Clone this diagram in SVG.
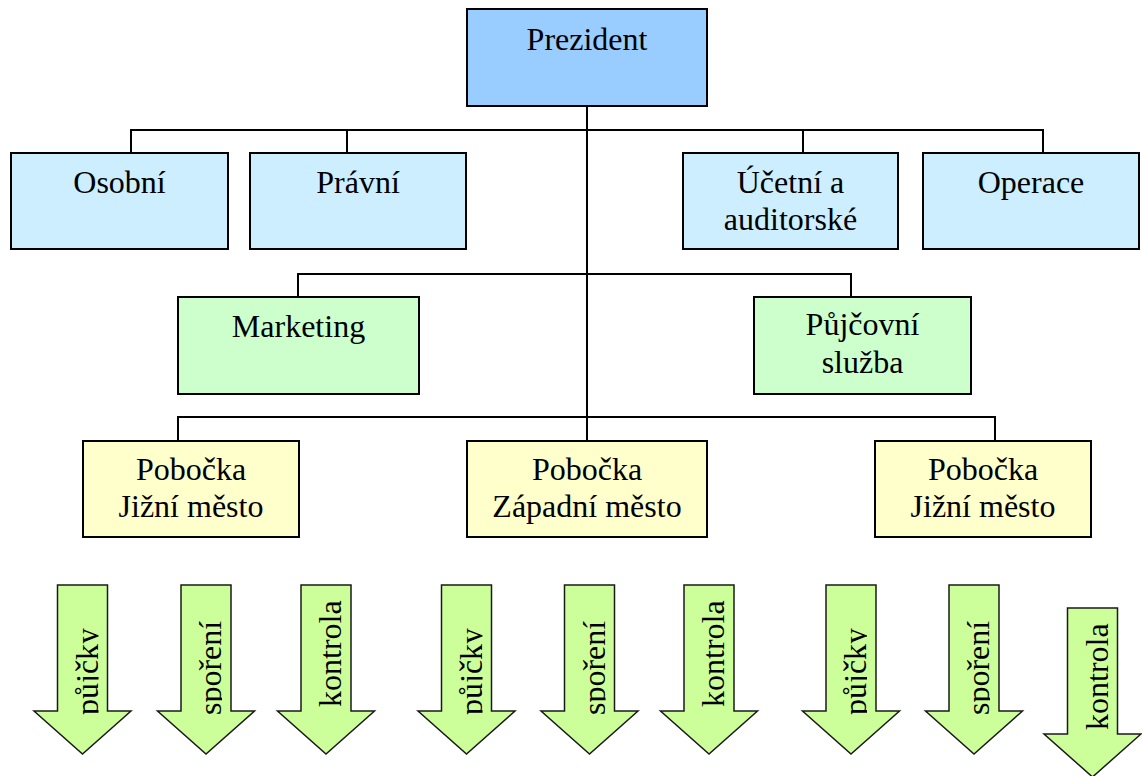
<svg xmlns="http://www.w3.org/2000/svg" width="1142" height="776" viewBox="0 0 1142 776" font-family="Liberation Serif, Times New Roman, Times, DejaVu Serif, serif" font-size="32">
  <style>
    .box { stroke: #000; stroke-width: 2; }
    .pres { fill: #99ccff; }
    .dept { fill: #cceeff; }
    .div { fill: #ccffcc; }
    .branch { fill: #ffffcc; }
    .lbl { text-anchor: middle; }
    .conn { fill: none; stroke: #000; stroke-width: 2; }
    .arrow { fill: #ccff99; stroke: #1a1a1a; stroke-width: 1.5; stroke-linejoin: miter; }
  </style>
  <defs>
    <path id="arrowShape" d="M-25,0 H25 V126 H48.5 L0,169 L-48.5,126 H-25 Z"/>
    <clipPath id="arrowText">
      <rect x="-25" y="0" width="41" height="169"/>
    </clipPath>
  </defs>

  <!-- connectors -->
  <g id="connectors">
    <path class="conn" d="M587,106 V441"/>
    <path class="conn" d="M131,153 V130 H1043 V153 M347,130 V153 M803,130 V153"/>
    <path class="conn" d="M298,297 V274 H851 V297"/>
    <path class="conn" d="M178,441 V417 H995 V441"/>
  </g>

  <!-- top level -->
  <g id="prezident">
    <rect class="box pres" x="467" y="9" width="240" height="97"/>
    <text class="lbl" x="587" y="50">Prezident</text>
  </g>

  <!-- departments -->
  <g id="osobni">
    <rect class="box dept" x="11" y="153" width="217" height="96"/>
    <text class="lbl" x="119.5" y="193">Osobní</text>
  </g>
  <g id="pravni">
    <rect class="box dept" x="250" y="153" width="216" height="96"/>
    <text class="lbl" x="358" y="193">Právní</text>
  </g>
  <g id="ucetni">
    <rect class="box dept" x="683" y="153" width="215" height="96"/>
    <text class="lbl" x="790.5" y="193">Účetní a</text>
    <text class="lbl" x="790.5" y="230">auditorské</text>
  </g>
  <g id="operace">
    <rect class="box dept" x="923" y="153" width="216" height="96"/>
    <text class="lbl" x="1031" y="193">Operace</text>
  </g>

  <!-- divisions -->
  <g id="marketing">
    <rect class="box div" x="178" y="297" width="241" height="97"/>
    <text class="lbl" x="298.5" y="337">Marketing</text>
  </g>
  <g id="pujcovni">
    <rect class="box div" x="754" y="297" width="217" height="97"/>
    <text class="lbl" x="862.5" y="335">Půjčovní</text>
    <text class="lbl" x="862.5" y="373">služba</text>
  </g>

  <!-- branches -->
  <g id="pobocka-1">
    <rect class="box branch" x="83" y="441" width="216" height="96"/>
    <text class="lbl" x="191" y="480">Pobočka</text>
    <text class="lbl" x="191" y="517">Jižní město</text>
  </g>
  <g id="pobocka-2">
    <rect class="box branch" x="467" y="441" width="240" height="96"/>
    <text class="lbl" x="587" y="480">Pobočka</text>
    <text class="lbl" x="587" y="517">Západní město</text>
  </g>
  <g id="pobocka-3">
    <rect class="box branch" x="875" y="441" width="216" height="96"/>
    <text class="lbl" x="983" y="480">Pobočka</text>
    <text class="lbl" x="983" y="517">Jižní město</text>
  </g>

  <!-- service arrows -->
  <g id="arrow-1" transform="translate(82.5,585)">
    <use href="#arrowShape" class="arrow"/>
    <g clip-path="url(#arrowText)"><text transform="translate(15,130) rotate(-90)">půjčky</text></g>
  </g>
  <g id="arrow-2" transform="translate(206,585)">
    <use href="#arrowShape" class="arrow"/>
    <g clip-path="url(#arrowText)"><text transform="translate(15,130) rotate(-90)">spoření</text></g>
  </g>
  <g id="arrow-3" transform="translate(326,585)">
    <use href="#arrowShape" class="arrow"/>
    <g clip-path="url(#arrowText)"><text transform="translate(15,122) rotate(-90)">kontrola</text></g>
  </g>
  <g id="arrow-4" transform="translate(466.5,585)">
    <use href="#arrowShape" class="arrow"/>
    <g clip-path="url(#arrowText)"><text transform="translate(15,130) rotate(-90)">půjčky</text></g>
  </g>
  <g id="arrow-5" transform="translate(589.5,585)">
    <use href="#arrowShape" class="arrow"/>
    <g clip-path="url(#arrowText)"><text transform="translate(15,130) rotate(-90)">spoření</text></g>
  </g>
  <g id="arrow-6" transform="translate(709,585)">
    <use href="#arrowShape" class="arrow"/>
    <g clip-path="url(#arrowText)"><text transform="translate(15,122) rotate(-90)">kontrola</text></g>
  </g>
  <g id="arrow-7" transform="translate(851,585)">
    <use href="#arrowShape" class="arrow"/>
    <g clip-path="url(#arrowText)"><text transform="translate(15,130) rotate(-90)">půjčky</text></g>
  </g>
  <g id="arrow-8" transform="translate(974,585)">
    <use href="#arrowShape" class="arrow"/>
    <g clip-path="url(#arrowText)"><text transform="translate(15,130) rotate(-90)">spoření</text></g>
  </g>
  <g id="arrow-9" transform="translate(1092.5,608)">
    <use href="#arrowShape" class="arrow"/>
    <g clip-path="url(#arrowText)"><text transform="translate(15,122) rotate(-90)">kontrola</text></g>
  </g>
</svg>
